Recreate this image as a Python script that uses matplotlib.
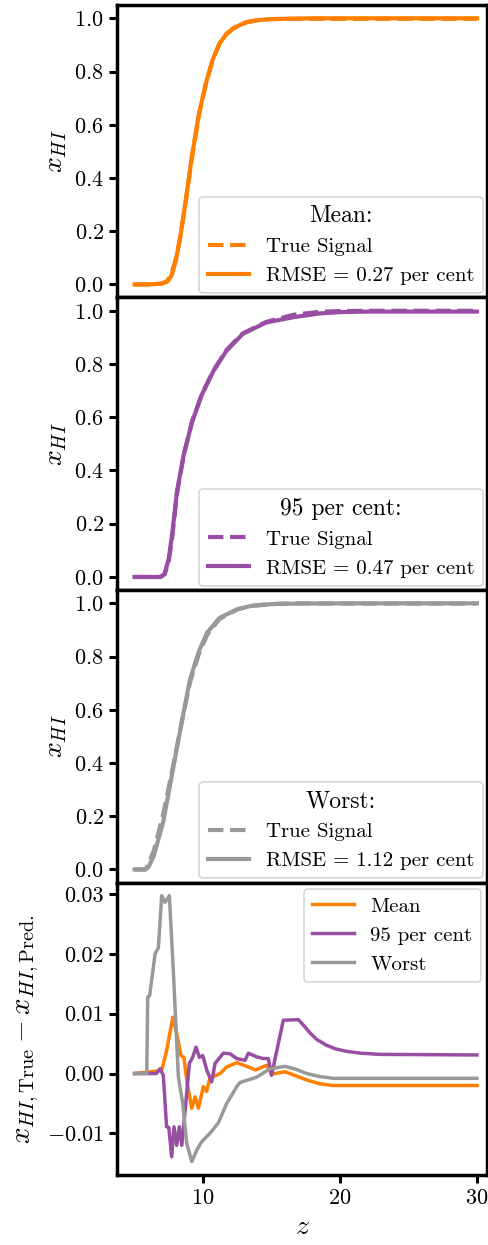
import matplotlib
matplotlib.use("Agg")
import matplotlib.pyplot as plt

plt.rcParams['font.family'] = 'serif'
plt.rcParams['font.serif'] = ['cmr10']
plt.rcParams['mathtext.fontset'] = 'cm'
plt.rcParams['axes.formatter.use_mathtext'] = True

ORANGE = '#ff7f00'
PURPLE = '#984ea3'
GREY = '#999999'

# --- Mean sample ---
z_mean = [5, 6, 7, 7.4, 7.7, 8.0, 8.3, 8.7, 9.2, 9.7, 10.2, 10.7, 11.2, 11.7,
          12.2, 12.7, 13.2, 14, 15, 16, 18, 20, 25, 30]
mean_true = [0, 0, 0.003, 0.014, 0.042, 0.093, 0.168, 0.298, 0.480, 0.636,
             0.752, 0.843, 0.905, 0.941, 0.963, 0.977, 0.986, 0.993, 0.997,
             0.998, 0.998, 0.998, 0.998, 0.998]
mean_pred = [0, 0, 0.003, 0.011, 0.033, 0.087, 0.166, 0.302, 0.486, 0.641,
             0.754, 0.844, 0.905, 0.940, 0.961, 0.975, 0.985, 0.993, 0.997,
             0.998, 1.0, 1.0, 1.0, 1.0]

# --- 95 per cent sample ---
z_95 = [5, 6, 6.9, 7.2, 7.5, 7.75, 8.1, 8.6, 9.2, 9.9, 10.75, 11.7, 12.9,
        14.6, 16.6, 18.5, 20, 22, 25, 30]
p95_true = [0, 0, 0, 0.010, 0.060, 0.150, 0.315, 0.460, 0.585, 0.685, 0.775,
            0.852, 0.915, 0.958, 0.985, 0.996, 0.999, 1.0, 1.0, 1.0]
p95_pred = [0, 0, 0, 0.012, 0.070, 0.162, 0.322, 0.462, 0.582, 0.683, 0.773,
            0.849, 0.913, 0.956, 0.976, 0.990, 0.995, 0.997, 0.997, 0.997]

# --- Worst sample ---
z_worst = [5, 5.8, 6.0, 6.4, 7.1, 7.8, 8.45, 9.05, 9.7, 10.3, 11.2, 12.5,
           13.5, 15, 17, 20, 25, 30]
worst_true = [0, 0, 0.021, 0.070, 0.210, 0.385, 0.555, 0.703, 0.810, 0.881,
              0.941, 0.977, 0.990, 0.998, 1.0, 0.999, 0.999, 0.999]
worst_pred = [0, 0, 0.008, 0.050, 0.180, 0.375, 0.555, 0.715, 0.820, 0.890,
              0.945, 0.978, 0.990, 0.997, 0.999, 1.0, 1.0, 1.0]

rmse_mean, rmse_95, rmse_worst = 0.27, 0.47, 1.12

# --- residuals (true - predicted) ---
zd_mean = [5, 6.98, 7.35, 7.79, 8.08, 8.39, 8.6, 8.85, 9.18, 9.42, 9.66,
           10.02, 10.26, 10.5, 11.24, 11.73, 12.46, 13.2, 13.85, 14.65, 15.0,
           16.0, 16.8, 17.6, 18.5, 19.5, 30]
d_mean = [0, 0.0005, 0.0039, 0.0094, 0.0067, 0.0030, 0.0027, -0.0017,
          -0.0058, -0.0039, -0.0058, -0.0022, -0.0030, -0.0008, 0.0, 0.0011,
          0.0018, 0.0012, 0.0006, 0.0014, -0.0001, 0.0003, -0.0004, -0.0011,
          -0.0017, -0.0020, -0.0020]

zd_95 = [5, 6.6, 6.86, 7.1, 7.34, 7.5, 7.71, 7.88, 8.08, 8.27, 8.45, 8.76,
         9.0, 9.24, 9.49, 9.73, 9.98, 10.27, 10.63, 10.88, 11.48, 11.97,
         12.46, 13.07, 13.31, 13.9, 14.4, 14.77, 15.0, 15.86, 16.96, 17.4,
         17.8, 18.3, 19.03, 19.7, 20.5, 21.5, 22.9, 30]
d_95 = [0, 0, 0.0008, -0.0003, -0.0089, -0.0090, -0.0139, -0.0089, -0.0120,
        -0.0089, -0.0120, -0.0045, 0.0017, 0.0027, 0.0044, 0.0027, 0.0030,
        0.0006, -0.0014, 0.0017, 0.0034, 0.0033, 0.0025, 0.0022, 0.0034,
        0.0028, 0.0025, 0.0025, -0.0003, 0.0089, 0.0090, 0.0079, 0.0068,
        0.0057, 0.0047, 0.0041, 0.0037, 0.0034, 0.0032, 0.0031]

zd_worst = [5, 5.89, 5.96, 6.1, 6.5, 6.74, 6.98, 7.23, 7.54, 7.83, 8.2,
            8.52, 8.81, 9.18, 9.54, 9.9, 10.5, 11.1, 11.73, 12.46, 12.7,
            13.92, 14.89, 15.99, 16.8, 17.57, 18.5, 19.5, 30]
d_worst = [0, 0, 0.0128, 0.0130, 0.0200, 0.0210, 0.0297, 0.0286, 0.0297,
           0.0172, -0.0006, -0.0050, -0.0117, -0.0147, -0.0128, -0.0114,
           -0.0100, -0.0083, -0.0050, -0.0022, -0.0015, -0.0006, 0.0008,
           0.0012, 0.0007, 0.0, -0.0005, -0.0008, -0.0008]

panels = [
    ("Mean:", z_mean, mean_true, mean_pred, rmse_mean, ORANGE),
    ("95 per cent:", z_95, p95_true, p95_pred, rmse_95, PURPLE),
    ("Worst:", z_worst, worst_true, worst_pred, rmse_worst, GREY),
]

fig, axes = plt.subplots(4, 1, figsize=(4.89, 12.45), dpi=100, sharex=True)
fig.subplots_adjust(left=0.2393, right=0.9959, top=0.996, bottom=0.0562,
                    hspace=0)

for ax in axes:
    for s in ax.spines.values():
        s.set_linewidth(2.5)
    ax.tick_params(axis='both', which='major', labelsize=16, length=6,
                   width=2.2, direction='out')

for ax, (title, z, yt, yp, rmse, col) in zip(axes[:3], panels):
    ax.plot(z, yt, ls='--', lw=3, color=col, label='True Signal')
    ax.plot(z, yp, ls='-', lw=3, color=col, label=f'RMSE = {rmse:.2f} per cent')
    ax.set_ylabel(r'$x_{HI}$', fontsize=20)
    ax.set_yticks([0.0, 0.2, 0.4, 0.6, 0.8, 1.0])
    ax.set_ylim(-0.049, 1.05)
    ax.tick_params(axis='x', bottom=False)
    leg = ax.legend(loc='lower right', title=title, fontsize=15,
                    title_fontsize=17, borderaxespad=0.2)
    leg.get_frame().set_linewidth(1.2)

ax = axes[3]
ax.plot(zd_mean, d_mean, lw=2.5, color=ORANGE, label='Mean')
ax.plot(zd_95, d_95, lw=2.5, color=PURPLE, label='95 per cent')
ax.plot(zd_worst, d_worst, lw=2.5, color=GREY, label='Worst')
ax.set_yticks([-0.01, 0.0, 0.01, 0.02, 0.03])
ax.set_yticklabels(['$-0.01$', '0.00', '0.01', '0.02', '0.03'])
ax.set_ylim(-0.01695, 0.0319)
ax.set_ylabel(r'$x_{HI,\mathrm{True}} - x_{HI,\mathrm{Pred.}}$', fontsize=21)
ax.set_xlabel(r'$z$', fontsize=20)
ax.set_xticks([10, 20, 30])
ax.set_xlim(3.72, 30.73)
leg = ax.legend(loc='upper right', fontsize=15, borderaxespad=0.3)
leg.get_frame().set_linewidth(1.2)

fig.savefig('out.png', dpi=100)
